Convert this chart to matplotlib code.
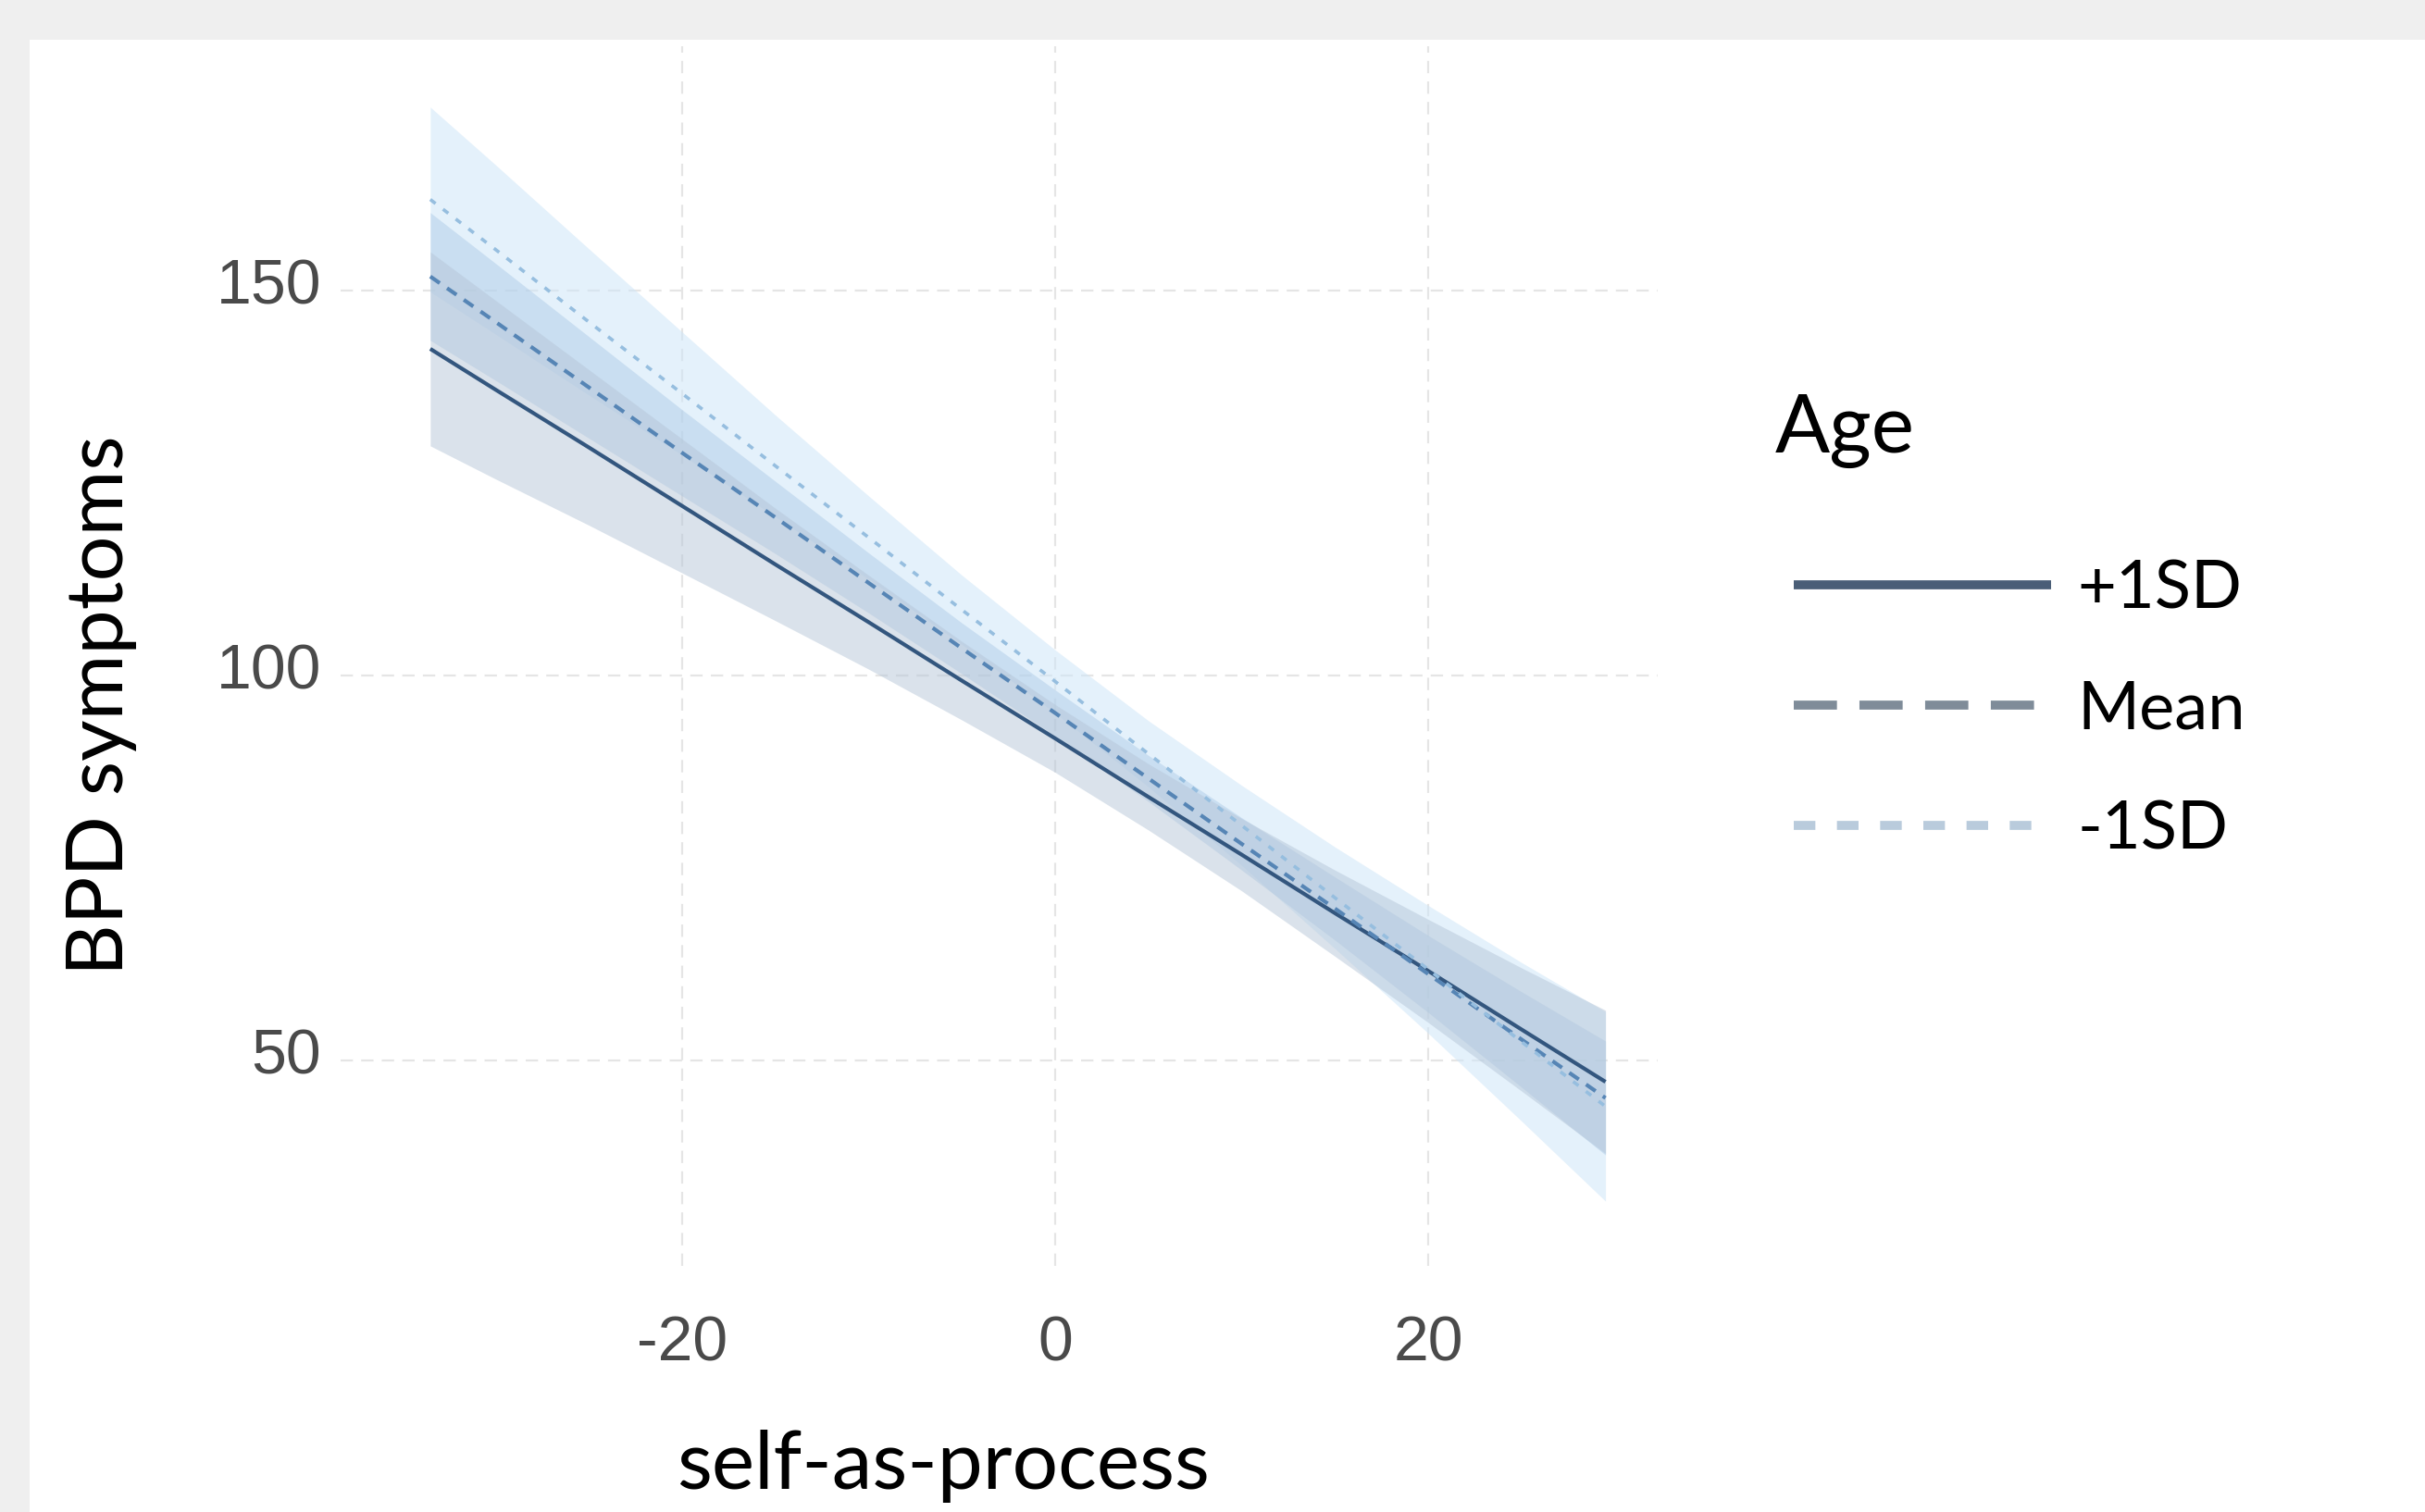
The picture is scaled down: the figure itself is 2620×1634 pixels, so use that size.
import matplotlib
matplotlib.use("Agg")
from matplotlib import pyplot as plt
from matplotlib.patches import Rectangle
from matplotlib.lines import Line2D
import matplotlib.transforms as mtransforms
import numpy as np

plt.rcParams["axes.unicode_minus"] = False

# values
x_vals = [-33.5, -30, -25, -20, -15, -10, -5, 0, 5, 10, 15, 20, 25, 29.5]

# fitted BPD symptoms at each x, and half-width of the confidence band
plus_fit = [142.4, 137.1, 129.6, 122.0, 114.4, 106.9, 99.3, 91.8, 84.2, 76.7, 69.1, 61.6, 54.0, 47.2]
plus_hw = [12.6, 11.6, 10.1, 8.7, 7.3, 6.1, 5.1, 4.4, 4.3, 4.7, 5.6, 6.7, 8.0, 9.3]

mean_fit = [151.8, 145.9, 137.4, 128.9, 120.5, 112.0, 103.5, 95.1, 86.6, 78.1, 69.7, 61.2, 52.7, 45.1]
mean_hw = [8.3, 7.6, 6.6, 5.6, 4.7, 3.9, 3.3, 3.0, 3.0, 3.4, 4.1, 5.0, 6.2, 7.4]

minus_fit = [161.8, 155.3, 145.9, 136.6, 127.2, 117.9, 108.5, 99.2, 89.8, 80.5, 71.1, 61.8, 52.4, 44.0]
minus_hw = [12.0, 11.0, 9.5, 8.0, 6.6, 5.4, 4.5, 4.1, 4.3, 5.2, 6.6, 8.3, 10.3, 12.3]

labels = ["+1SD", "Mean", "-1SD"]
x_ticks = [-20, 0, 20]
y_ticks = [50, 100, 150]

fig = plt.figure(figsize=(26.2, 16.34), dpi=100, facecolor="#efefef")
fig.patches.append(Rectangle((32 / 2620, 0), 1, 1 - 43 / 1634,
                             transform=fig.transFigure, facecolor="white",
                             edgecolor="none", zorder=-5))

ax = fig.add_axes([0.1405, 0.1628, 0.6836 - 0.1405, 0.9694 - 0.1628])
ax.set_facecolor("none")
ax.set_zorder(2)

# confidence bands
for fit, hw, col, a in [(minus_fit, minus_hw, "#cfe6f8", 0.55),
                        (mean_fit, mean_hw, "#a9c8e6", 0.45),
                        (plus_fit, plus_hw, "#b6c6d8", 0.5)]:
    fit = np.array(fit)
    hw = np.array(hw)
    ax.fill_between(x_vals, fit - hw, fit + hw, color=col, alpha=a, lw=0)

# fitted lines
ax.plot(x_vals, plus_fit, color="#33567e", lw=3.0, solid_capstyle="butt")
ax.plot(x_vals, mean_fit, color="#5685b5", lw=3.0, linestyle=(0, (3, 2.3)))
ax.plot(x_vals, minus_fit, color="#96bedf", lw=2.6, linestyle=(0, (2, 2.8)))

ax.set_xlim(-38.3, 32.3)
ax.set_ylim(23.3, 181.7)
ax.set_xticks(x_ticks)
ax.set_yticks(y_ticks)

for s in ax.spines.values():
    s.set_visible(False)
ax.grid(True, color="#e5e5e5", lw=1.6, linestyle=(0, (6, 4)))
ax.set_axisbelow(True)
ax.tick_params(length=0, labelsize=49, labelcolor="#4a4a4a")
ax.tick_params(axis="x", pad=38)
ax.tick_params(axis="y", pad=15)
shift_up = mtransforms.ScaledTranslation(0, 10 / 100, fig.dpi_scale_trans)
for t in ax.get_xticklabels() + ax.get_yticklabels():
    t.set_family("Liberation Sans")
for t in ax.get_yticklabels():
    t.set_transform(t.get_transform() + shift_up)

ax.set_xlabel("self-as-process", family="Lato", fontsize=63, va="center")
ax.set_ylabel("BPD symptoms", family="Lato", fontsize=62, va="center")
ax.xaxis.set_label_coords(0.4575, -0.164)
ax.yaxis.set_label_coords(-0.182, 0.46)

handles = [
    Line2D([], [], color="#4a5e77", lw=7, solid_capstyle="butt"),
    Line2D([], [], color="#7f8c99", lw=7, linestyle=(0, (4.8, 2.5))),
    Line2D([], [], color="#b9cbdc", lw=7, linestyle=(0, (2.4, 2.4))),
]
fig.text(1918 / 2620, 1 - 466 / 1634, "Age", family="Lato", fontsize=63,
         ha="left", va="center")
leg = fig.legend(handles, labels, loc="center left",
                 bbox_to_anchor=(1873 / 2620, 1 - 767 / 1634),
                 frameon=False, handlelength=3.85, handletextpad=0.39,
                 labelspacing=0.9, prop={"family": "Lato", "size": 52})

fig.savefig("out.png", dpi=100, facecolor=fig.get_facecolor())
